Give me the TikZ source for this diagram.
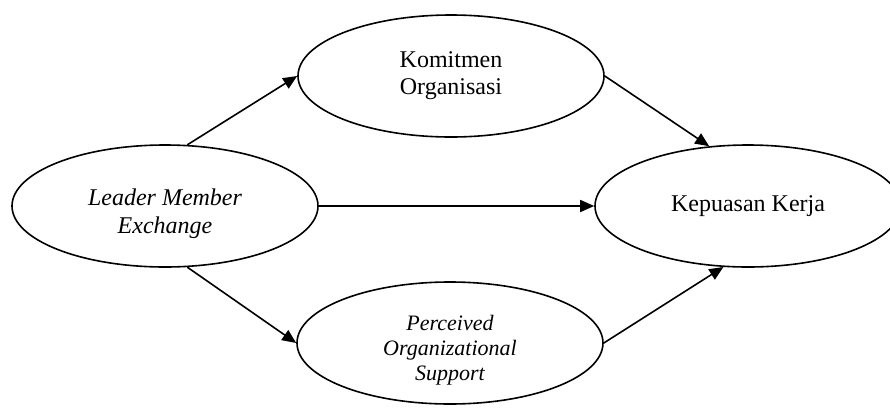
\documentclass[tikz,border=0pt]{standalone}
\usepackage{fontspec}
\setmainfont{Liberation Serif}
\usetikzlibrary{shapes.geometric,arrows.meta}

\begin{document}
\begin{tikzpicture}[x=0.5pt,y=-0.5pt,
  var/.style={draw,ellipse,line width=0.8pt,minimum width=153pt,minimum height=61pt,
    inner sep=0pt,align=center,font=\fontsize{12}{14}\selectfont},
  inner/.style={align=center,inner sep=0pt},
  link/.style={-{Triangle[length=7pt,width=6pt]},line width=0.8pt}]
\useasboundingbox (0,0) rectangle (890,408);

\node[var,label={[inner,yshift=-4pt,font=\fontsize{12}{14}\selectfont\itshape]center:Leader Member\\ Exchange}] (lmx) at (165,206) {};
\node[var,font=\fontsize{12}{13.5}\selectfont] (kom) at (451,76) {Komitmen\\ Organisasi};
\node[var] (kep) at (748,206) {Kepuasan Kerja};
\node[var,label={[inner,yshift=-3.5pt,font=\fontsize{11}{12.5}\selectfont\itshape]center:Perceived\\ Organizational\\ Support}] (pos) at (450,343) {};

\draw[link] (lmx.70) -- (kom.west);
\draw[link] (lmx.east) -- (kep.west);
\draw[link] (lmx.-70) -- (pos.west);

\draw[link] (kom.east) -- (kep.123);
\draw[link] (pos.east) -- (kep.-112);
\end{tikzpicture}
\end{document}
